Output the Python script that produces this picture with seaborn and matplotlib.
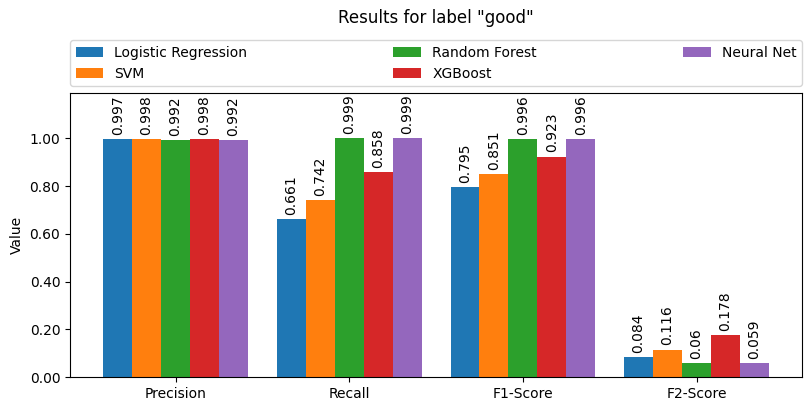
import pandas as pd
import numpy as np
import matplotlib
matplotlib.use('Agg')
import matplotlib.pyplot as plt
import seaborn as sns

# Datos
metricas = ['Precision', 'Recall', 'F1-Score', 'F2-Score']
modelos = ['Logistic Regression', 'SVM', 'Random Forest', 'XGBoost', 'Neural Net']
logistic = [0.997, 0.661, 0.795, 0.084]
svm = [0.998, 0.742, 0.851, 0.116]
random_forest = [0.992, 0.999, 0.996, 0.06]
xgboost = [0.998, 0.858, 0.923, 0.178]
neural_net = [0.992, 0.999, 0.996, 0.059]
colores = ['#1f77b4', '#ff7f0e', '#2ca02c', '#d62728', '#9467bd']

valores = [logistic, svm, random_forest, xgboost, neural_net]
filas = []
for modelo, vals in zip(modelos, valores):
    for metrica, v in zip(metricas, vals):
        filas.append({'Metric': metrica, 'Model': modelo, 'Value': v})
df = pd.DataFrame(filas)

fig = plt.figure(figsize=(8.11, 4.11), dpi=100)
ax = fig.add_axes([0.0863, 0.082, 0.9027, 0.691])

sns.barplot(data=df, x='Metric', y='Value', hue='Model', order=metricas,
            hue_order=modelos, palette=colores, width=5 / 6, errorbar=None,
            saturation=1, ax=ax)

for cont, vals in zip(ax.containers, valores):
    ax.bar_label(cont, labels=[str(round(v, 3)) for v in vals],
                 rotation=90, padding=3, fontsize=10)

ax.set_xlim(-0.608, 3.608)
ax.set_ylim(0, 1.188)
ax.set_yticks([0, 0.2, 0.4, 0.6, 0.8, 1.0])
ax.yaxis.set_major_formatter(matplotlib.ticker.FormatStrFormatter('%.2f'))
ax.set_xlabel('')
ax.set_ylabel('Value')

handles, labels = ax.get_legend_handles_labels()
ax.legend(handles, labels, bbox_to_anchor=(0, 1.025, 1, 0.2), loc='lower left',
          ncol=3, mode='expand', borderaxespad=0, fontsize=10)

fig.text(0.5376, 1 - 18 / 411, 'Results for label "good"', ha='center',
         va='center', fontsize=12)

fig.savefig('out.png', dpi=100)
